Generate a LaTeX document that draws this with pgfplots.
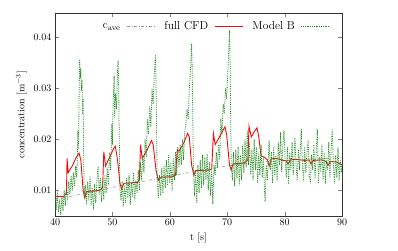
\documentclass[border=0pt]{standalone}
\usepackage{pgfplots}
\pgfplotsset{compat=1.18}
\definecolor{cfdred}{rgb}{0.95,0.05,0.05}
\definecolor{modgreen}{rgb}{0.13,0.55,0.13}
\definecolor{avegray}{rgb}{0.6,0.6,0.6}
\begin{document}
\begin{tikzpicture}
\path (-55pt,-34pt) rectangle (343pt,216pt);
\begin{axis}[
  at={(0,0)}, anchor=south west,
  scale only axis, width=287pt, height=203pt,
  xmin=40, xmax=90, ymin=0.005, ymax=0.0448,
  xtick={40,50,60,70,80,90},
  ytick={0.01,0.02,0.03,0.04},
  scaled y ticks=false,
  yticklabel style={/pgf/number format/fixed,/pgf/number format/precision=2,/pgf/number format/fixed zerofill},
  tick align=inside,
  axis line style={black!80},
  xlabel={t [s]}, ylabel={concentration [m$^{-3}$]},
  legend plot pos=right,
  legend columns=3,
  legend style={at={(0.559,0.978)}, anchor=north, draw=none, fill=none,
    font=\fontsize{11.5}{13}\selectfont,
    /tikz/every odd column/.append style={column sep=4pt},
    /tikz/every even column/.append style={column sep=7pt}},
  legend image code/.code={\draw[#1] (0cm,0cm) -- (1cm,0cm);},
]
\addplot[avegray, dash dot, line width=0.6pt] coordinates {
(40,0.0082) (45,0.0094) (50,0.0106) (55,0.0117) (60,0.0128) (65,0.0139) (70,0.0148) (75,0.0155) (80,0.0159) (85,0.0162) (90,0.0164)};
\addlegendentry{c$_{\mathrm{ave}}$}
\addplot[cfdred, line width=0.9pt] coordinates {
(40,0.0088) (41.5,0.0088) (41.8,0.0092) (42.0,0.0095) (42.1,0.0163) (42.3,0.0135) (43.0,0.0148) (43.7,0.0165) (44.2,0.0173) (44.5,0.0160) (44.9,0.0100) (45.2,0.0085) (45.5,0.0098) (46.5,0.0099) (47.5,0.0100) (48.0,0.0102) (48.3,0.0107) (48.5,0.0176) (48.8,0.0148) (49.5,0.0165) (50.2,0.0182) (50.5,0.0187) (50.9,0.0160) (51.3,0.0115) (51.6,0.0103) (52.0,0.0114) (53,0.0115) (54.4,0.0116) (54.7,0.0122) (54.9,0.0190) (55.2,0.0163) (56.0,0.0178) (56.8,0.0198) (57.1,0.0190) (57.6,0.0140) (58.0,0.0120) (58.5,0.0126) (60.5,0.0127) (61.0,0.0130) (61.3,0.0180) (61.6,0.0177) (62.5,0.0195) (63.1,0.0212) (63.4,0.0205) (63.8,0.0150) (64.2,0.0130) (64.5,0.0139) (66.8,0.0140) (67.3,0.0142) (67.6,0.0212) (67.9,0.0190) (68.8,0.0208) (69.6,0.0225) (69.9,0.0210) (70.4,0.0150) (70.7,0.0140) (71.0,0.0152) (73.0,0.0154) (73.6,0.0160) (73.8,0.0226) (74.2,0.0205) (74.7,0.0215) (75.2,0.0223) (75.5,0.0205) (75.9,0.0168) (76.5,0.0165) (77.0,0.0160) (77.3,0.0148) (77.7,0.0162) (78.5,0.0163) (79.5,0.0160) (80.3,0.0158) (80.6,0.0152) (81.0,0.0160) (82,0.0161) (83.5,0.0159) (84.3,0.0160) (84.6,0.0152) (85.0,0.0159) (86.5,0.0160) (87.2,0.0157) (87.6,0.0150) (88.0,0.0157) (89.0,0.0156) (90,0.0150)};
\addlegendentry{full CFD}
\addplot[modgreen, densely dotted, line width=0.8pt] table {
40.0 0.0090
40.2 0.0062
40.4 0.0098
40.6 0.0058
40.8 0.0082
41.0 0.0052
41.2 0.0088
41.4 0.0060
41.6 0.0100
41.8 0.0070
42.0 0.0108
42.2 0.0080
42.4 0.0118
42.6 0.0092
42.8 0.0128
43.0 0.0100
43.2 0.0135
43.4 0.0108
43.6 0.0148
43.8 0.0125
44.0 0.0218
44.1 0.0180
44.2 0.0285
44.3 0.0358
44.4 0.0320
44.5 0.0340
44.6 0.0295
44.7 0.0318
44.8 0.0250
44.9 0.0280
45.0 0.0160
45.1 0.0085
45.3 0.0110
45.5 0.0072
45.7 0.0118
45.9 0.0080
46.1 0.0128
46.3 0.0070
46.5 0.0105
46.7 0.0062
46.9 0.0112
47.1 0.0075
47.3 0.0120
47.5 0.0148
47.7 0.0090
47.9 0.0125
48.1 0.0078
48.3 0.0118
48.5 0.0082
48.7 0.0130
48.9 0.0095
49.1 0.0145
49.3 0.0110
49.5 0.0175
49.7 0.0140
49.9 0.0230
50.0 0.0190
50.1 0.0260
50.3 0.0324
50.4 0.0240
50.5 0.0290
50.7 0.0260
50.9 0.0335
51.0 0.0355
51.1 0.0300
51.2 0.0200
51.3 0.0105
51.5 0.0080
51.7 0.0118
51.9 0.0068
52.1 0.0110
52.3 0.0075
52.5 0.0125
52.7 0.0085
52.9 0.0130
53.1 0.0072
53.3 0.0115
53.5 0.0088
53.7 0.0135
53.9 0.0080
54.1 0.0120
54.3 0.0095
54.5 0.0140
54.7 0.0100
54.9 0.0155
55.1 0.0120
55.3 0.0170
55.5 0.0135
55.7 0.0200
55.9 0.0165
56.1 0.0240
56.3 0.0210
56.5 0.0265
56.7 0.0225
56.9 0.0300
57.1 0.0270
57.3 0.0330
57.5 0.0365
57.6 0.0310
57.7 0.0220
57.8 0.0120
58.0 0.0085
58.2 0.0130
58.4 0.0090
58.6 0.0145
58.8 0.0095
59.0 0.0150
59.2 0.0105
59.4 0.0160
59.6 0.0110
59.8 0.0170
60.0 0.0115
60.2 0.0155
60.4 0.0100
60.6 0.0165
60.8 0.0120
61.0 0.0175
61.2 0.0130
61.4 0.0185
61.6 0.0145
61.8 0.0190
62.0 0.0150
62.2 0.0200
62.4 0.0160
62.6 0.0215
62.8 0.0230
63.0 0.0260
63.2 0.0240
63.4 0.0300
63.6 0.0335
63.8 0.0388
63.9 0.0340
64.0 0.0250
64.1 0.0150
64.3 0.0090
64.5 0.0140
64.7 0.0075
64.9 0.0150
65.1 0.0095
65.3 0.0160
65.5 0.0105
65.7 0.0170
65.9 0.0110
66.1 0.0165
66.3 0.0120
66.5 0.0172
66.7 0.0100
66.9 0.0155
67.1 0.0090
67.3 0.0140
67.5 0.0074
67.7 0.0150
67.9 0.0130
68.1 0.0175
68.3 0.0145
68.5 0.0190
68.7 0.0160
68.9 0.0240
69.1 0.0210
69.3 0.0270
69.5 0.0250
69.7 0.0300
69.9 0.0280
70.1 0.0330
70.3 0.0385
70.4 0.0414
70.5 0.0360
70.6 0.0250
70.7 0.0150
70.9 0.0120
71.1 0.0175
71.3 0.0108
71.5 0.0180
71.7 0.0125
71.9 0.0185
72.1 0.0110
72.3 0.0170
72.5 0.0120
72.7 0.0190
72.9 0.0135
73.1 0.0200
73.3 0.0145
73.5 0.0218
73.7 0.0150
73.9 0.0195
74.1 0.0130
74.3 0.0180
74.5 0.0120
74.7 0.0200
74.9 0.0140
75.1 0.0185
75.3 0.0115
75.5 0.0175
75.7 0.0130
75.9 0.0190
76.1 0.0125
76.3 0.0165
76.5 0.0100
76.6 0.0078
76.8 0.0150
77.0 0.0120
77.3 0.0198
77.5 0.0140
77.7 0.0175
77.9 0.0115
78.1 0.0185
78.3 0.0130
78.5 0.0170
78.7 0.0120
78.9 0.0195
79.1 0.0150
79.3 0.0214
79.5 0.0135
79.7 0.0190
79.9 0.0218
80.1 0.0160
80.3 0.0125
80.5 0.0185
80.7 0.0113
80.9 0.0175
81.1 0.0140
81.3 0.0195
81.5 0.0130
81.8 0.0204
82.0 0.0150
82.2 0.0120
82.4 0.0180
82.6 0.0140
82.9 0.0221
83.1 0.0150
83.3 0.0118
83.5 0.0185
83.7 0.0135
83.9 0.0175
84.1 0.0198
84.3 0.0130
84.5 0.0114
84.7 0.0170
84.9 0.0140
85.1 0.0190
85.3 0.0125
85.5 0.0175
85.7 0.0221
85.9 0.0114
86.1 0.0165
86.3 0.0135
86.5 0.0190
86.7 0.0120
86.9 0.0175
87.1 0.0114
87.3 0.0160
87.5 0.0140
87.7 0.0195
87.9 0.0125
88.1 0.0180
88.3 0.0220
88.5 0.0150
88.7 0.0114
88.9 0.0170
89.1 0.0125
89.3 0.0185
89.5 0.0120
89.7 0.0160
89.9 0.0135
90.0 0.0150
};
\addlegendentry{Model B}
\end{axis}
\end{tikzpicture}
\end{document}
